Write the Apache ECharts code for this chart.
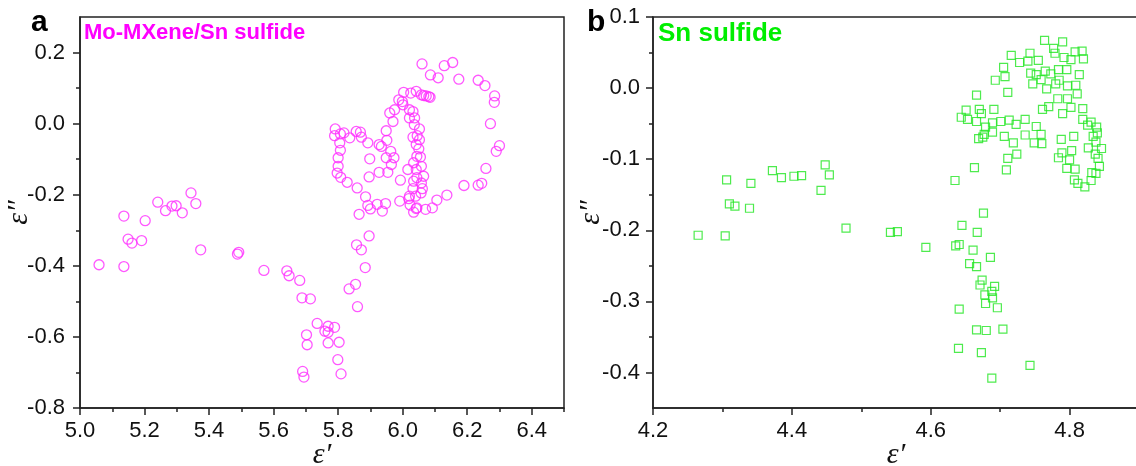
<!DOCTYPE html>
<html>
<head>
<meta charset="utf-8">
<title>Cole-Cole plots</title>
<script src="https://cdn.jsdelivr.net/npm/echarts@6/dist/echarts.min.js"></script>
<style>
  html, body { margin: 0; padding: 0; background: #fff; }
  #chart { width: 1136px; height: 466px; }
</style>
</head>
<body>
<div id="chart"></div>
<script>
// Cole-Cole curves: epsilon'' against epsilon'
const moMxenePoints = [
  [5.059,-0.397],[5.136,-0.402],[5.136,-0.260],[5.149,-0.325],[5.161,-0.336],[5.191,-0.329],
  [5.202,-0.273],[5.241,-0.221],[5.265,-0.245],[5.285,-0.232],[5.298,-0.231],[5.317,-0.251],
  [5.344,-0.195],[5.359,-0.225],[5.374,-0.355],[5.488,-0.367],[5.492,-0.362],[5.570,-0.413],
  [5.641,-0.414],[5.648,-0.428],[5.681,-0.441],[5.688,-0.490],[5.714,-0.493],[5.735,-0.562],
  [5.759,-0.584],[5.769,-0.570],[5.789,-0.573],[5.769,-0.587],[5.702,-0.594],[5.704,-0.622],
  [5.769,-0.617],[5.803,-0.615],[5.799,-0.664],[5.690,-0.697],[5.694,-0.713],[5.809,-0.704],
  [5.860,-0.515],[5.834,-0.465],[5.854,-0.452],[5.884,-0.405],[5.857,-0.341],[5.872,-0.355],
  [5.896,-0.316],[5.865,-0.255],
  [6.060,0.168],[6.086,0.137],[6.110,0.129],[6.129,0.163],[6.155,0.172],[6.174,0.125],
  [6.234,0.122],[6.255,0.107],[6.285,0.078],[6.284,0.060],[6.272,0.000],[6.300,-0.062],
  [6.290,-0.078],[6.258,-0.126],[6.245,-0.168],[6.234,-0.173],[6.190,-0.174],[6.137,-0.201],
  [6.106,-0.215],[6.092,-0.237],[6.071,-0.241],[6.042,-0.239],[6.034,-0.249],[6.023,-0.229],
  [6.021,-0.204],[5.991,-0.218],[5.993,-0.159],[6.016,-0.129],[6.034,-0.162],[6.042,-0.129],
  [6.034,-0.110],[6.044,-0.092],[6.055,-0.094],[6.050,-0.071],[6.042,-0.059],[6.052,-0.045],
  [6.032,-0.038],[6.045,-0.034],[6.052,-0.015],[6.036,-0.003],[6.021,0.016],[6.037,0.016],
  [6.032,0.034],[6.021,0.039],[6.001,0.053],[5.999,0.062],[5.988,0.067],[6.003,0.088],
  [6.025,0.086],[6.042,0.091],[6.058,0.081],[6.073,0.078],[6.085,0.074],[6.081,0.076],
  [6.065,0.079],[5.975,0.039],[5.960,0.030],[5.970,0.006],[5.949,-0.020],[5.951,-0.047],
  [5.927,-0.059],[5.934,-0.064],[5.963,-0.078],[5.949,-0.096],[5.973,-0.096],[5.965,-0.115],
  [5.954,-0.137],[5.927,-0.137],[5.896,-0.150],[5.898,-0.099],[5.892,-0.054],[5.872,-0.038],
  [5.856,-0.022],[5.869,-0.024],[5.836,-0.040],[5.818,-0.026],[5.807,-0.029],[5.791,-0.015],
  [5.789,-0.034],[5.805,-0.054],[5.807,-0.075],[5.800,-0.096],[5.800,-0.120],[5.797,-0.139],
  [5.808,-0.151],[5.828,-0.165],[5.859,-0.181],[5.885,-0.206],[5.892,-0.230],[5.900,-0.240],
  [5.921,-0.227],[5.937,-0.246],[5.947,-0.225],[6.019,-0.211],[6.032,-0.183],[6.044,-0.152],
  [6.058,-0.167],[6.061,-0.183],[6.065,-0.148],[6.058,-0.120],[6.040,-0.204],[6.057,-0.195],
  [6.044,-0.237]
];

const snSulfidePoints = [
  [4.265,-0.207],[4.304,-0.208],[4.306,-0.129],[4.310,-0.163],[4.318,-0.166],[4.341,-0.134],
  [4.339,-0.169],[4.372,-0.116],[4.385,-0.126],[4.403,-0.124],[4.414,-0.123],[4.442,-0.144],
  [4.448,-0.108],[4.454,-0.122],[4.478,-0.197],[4.542,-0.203],[4.552,-0.202],[4.593,-0.224],
  [4.636,-0.222],[4.641,-0.220],[4.645,-0.193],[4.676,-0.176],[4.667,-0.203],[4.661,-0.228],
  [4.686,-0.238],[4.656,-0.247],[4.666,-0.251],[4.674,-0.270],[4.671,-0.277],[4.692,-0.279],
  [4.688,-0.286],[4.678,-0.291],[4.689,-0.295],[4.679,-0.303],[4.696,-0.309],[4.641,-0.311],
  [4.666,-0.340],[4.680,-0.341],[4.704,-0.339],[4.640,-0.366],[4.673,-0.372],[4.743,-0.390],
  [4.688,-0.408],
  [4.764,0.067],[4.790,0.065],[4.777,0.056],[4.779,0.049],[4.818,0.052],[4.808,0.051],
  [4.820,0.041],[4.716,0.046],[4.743,0.049],[4.728,0.036],[4.740,0.038],[4.755,0.039],
  [4.792,0.043],[4.802,0.040],[4.705,0.029],[4.707,0.016],[4.693,0.011],[4.711,-0.006],
  [4.744,0.021],[4.752,0.019],[4.765,0.024],[4.773,0.020],[4.784,0.026],[4.796,0.026],
  [4.814,0.019],[4.747,0.006],[4.759,0.012],[4.767,-0.001],[4.780,0.006],[4.785,0.011],
  [4.797,0.003],[4.809,0.004],[4.811,-0.008],[4.783,-0.015],[4.797,-0.015],[4.802,-0.027],
  [4.819,-0.029],[4.790,-0.036],[4.761,-0.030],[4.770,-0.026],[4.666,-0.010],[4.651,-0.031],
  [4.644,-0.041],[4.653,-0.044],[4.670,-0.030],[4.673,-0.036],[4.666,-0.047],[4.691,-0.030],
  [4.679,-0.055],[4.677,-0.065],[4.669,-0.071],[4.675,-0.069],[4.689,-0.062],[4.689,-0.049],
  [4.701,-0.047],[4.713,-0.045],[4.723,-0.051],[4.736,-0.044],[4.706,-0.068],[4.719,-0.077],
  [4.724,-0.093],[4.711,-0.099],[4.709,-0.115],[4.736,-0.066],[4.752,-0.054],[4.759,-0.065],
  [4.749,-0.077],[4.760,-0.078],[4.663,-0.112],[4.635,-0.130],[4.788,-0.072],[4.806,-0.068],
  [4.803,-0.088],[4.784,-0.098],[4.789,-0.091],[4.796,-0.113],[4.808,-0.114],[4.800,-0.101],
  [4.807,-0.129],[4.812,-0.134],[4.822,-0.139],[4.831,-0.130],[4.832,-0.119],[4.838,-0.120],
  [4.843,-0.110],[4.841,-0.099],[4.837,-0.093],[4.846,-0.085],[4.827,-0.084],[4.838,-0.076],
  [4.834,-0.068],[4.840,-0.063],[4.839,-0.055],[4.826,-0.052],[4.819,-0.044],[4.831,-0.048]
];

// axis ranges and tick positions
const leftXRange = [5.0, 6.5];
const leftYRange = [-0.8, 0.3];
const rightXRange = [4.2, 4.9];
const rightYRange = [-0.45, 0.1];

const leftXMajor = [5.0, 5.2, 5.4, 5.6, 5.8, 6.0, 6.2, 6.4];
const leftXMinor = [5.1, 5.3, 5.5, 5.7, 5.9, 6.1, 6.3, 6.5];
const leftYMajor = [-0.8, -0.6, -0.4, -0.2, 0.0, 0.2];
const leftYMinor = [-0.7, -0.5, -0.3, -0.1, 0.1];
const rightXMajor = [4.2, 4.4, 4.6, 4.8];
const rightXMinor = [4.3, 4.5, 4.7];
const rightYMajor = [-0.4, -0.3, -0.2, -0.1, 0.0, 0.1];
const rightYMinor = [-0.35, -0.25, -0.15, -0.05, 0.05];

const AXIS_COLOR = '#222';
const LABEL_FONT = 'Liberation Sans, Arial, sans-serif';
const NAME_FONT = 'Liberation Serif, DejaVu Serif, serif';

function majorAxis(kind, gridIndex, range, ticks, extra, labelMargin) {
  return Object.assign({
    type: 'value',
    gridIndex: gridIndex,
    position: kind === 'x' ? 'bottom' : 'left',
    min: range[0],
    max: range[1],
    splitLine: { show: false },
    axisLine: { show: true, onZero: false, lineStyle: { color: AXIS_COLOR, width: 1.5 } },
    axisTick: { show: true, inside: false, length: 7, customValues: ticks,
                lineStyle: { color: AXIS_COLOR, width: 1.5 } },
    axisLabel: { show: true, customValues: ticks, margin: labelMargin, color: '#111',
                 fontSize: 22, fontFamily: LABEL_FONT,
                 formatter: v => Number(v).toFixed(1) },
    nameTextStyle: { fontFamily: NAME_FONT, fontStyle: 'italic', fontSize: 30, color: '#111' },
    nameLocation: 'middle',
    nameMoveOverlap: false
  }, extra || {});
}

function minorAxis(kind, gridIndex, range, ticks) {
  return {
    type: 'value',
    gridIndex: gridIndex,
    position: kind === 'x' ? 'bottom' : 'left',
    min: range[0],
    max: range[1],
    splitLine: { show: false },
    axisLine: { show: false, onZero: false },
    axisTick: { show: true, inside: false, length: 4, customValues: ticks,
                lineStyle: { color: AXIS_COLOR, width: 1.5 } },
    axisLabel: { show: false }
  };
}

const chart = echarts.init(document.getElementById('chart'), null, { renderer: 'canvas' });

chart.setOption({
  backgroundColor: '#fff',
  animation: false,
  grid: [
    { left: 80, top: 17, width: 484, height: 391, show: true, containLabel: false,
      outerBoundsMode: 'none',
      borderColor: AXIS_COLOR, borderWidth: 1.5, backgroundColor: 'transparent' },
    { left: 653, top: 17, width: 486, height: 391, show: true, containLabel: false,
      outerBoundsMode: 'none',
      borderColor: AXIS_COLOR, borderWidth: 1.5, backgroundColor: 'transparent' }
  ],
  xAxis: [
    majorAxis('x', 0, leftXRange, leftXMajor, { name: 'ε′', nameGap: 32 }, 12),
    minorAxis('x', 0, leftXRange, leftXMinor),
    majorAxis('x', 1, rightXRange, rightXMajor, { name: 'ε′', nameGap: 32 }, 12),
    minorAxis('x', 1, rightXRange, rightXMinor)
  ],
  yAxis: [
    majorAxis('y', 0, leftYRange, leftYMajor, { name: 'ε″', nameGap: 46 }, 15),
    minorAxis('y', 0, leftYRange, leftYMinor),
    majorAxis('y', 1, rightYRange, rightYMajor, { name: 'ε″', nameGap: 47 }, 13),
    minorAxis('y', 1, rightYRange, rightYMinor)
  ],
  series: [
    {
      name: 'Mo-MXene/Sn sulfide',
      type: 'scatter',
      xAxisIndex: 0,
      yAxisIndex: 0,
      symbol: 'circle',
      symbolSize: 10,
      data: moMxenePoints,
      itemStyle: { color: 'rgba(0,0,0,0)', borderColor: '#ff2eff', borderWidth: 1.3 }
    },
    {
      name: 'Sn sulfide',
      type: 'scatter',
      xAxisIndex: 2,
      yAxisIndex: 2,
      symbol: 'rect',
      symbolSize: 8,
      data: snSulfidePoints,
      itemStyle: { color: 'rgba(0,0,0,0)', borderColor: '#22e622', borderWidth: 1.2 }
    }
  ],
  graphic: [
    { type: 'text', left: 31, top: 8, z: 10,
      style: { text: 'a', font: 'bold 30px Liberation Sans, Arial, sans-serif', fill: '#000' } },
    { type: 'text', left: 84, top: 22, z: 10,
      style: { text: 'Mo-MXene/Sn sulfide', font: 'bold 22px Liberation Sans, Arial, sans-serif', fill: '#ff00ff' } },
    { type: 'text', left: 587, top: 8, z: 10,
      style: { text: 'b', font: 'bold 30px Liberation Sans, Arial, sans-serif', fill: '#000' } },
    { type: 'text', left: 658, top: 21, z: 10,
      style: { text: 'Sn sulfide', font: 'bold 26px Liberation Sans, Arial, sans-serif', fill: '#00ee00' } }
  ]
});
</script>
</body>
</html>
